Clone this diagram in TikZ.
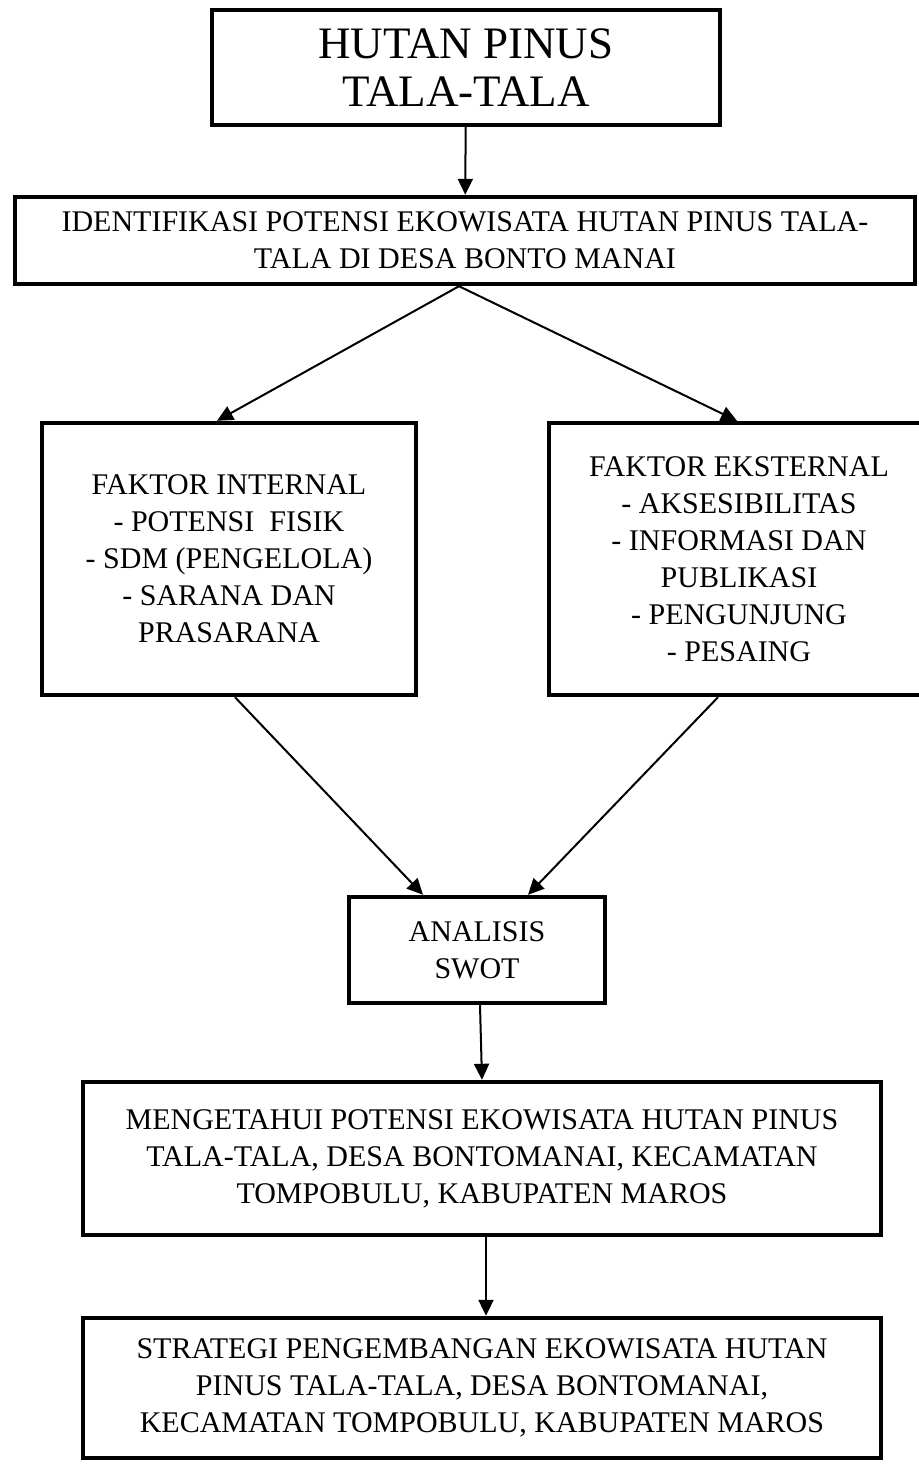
\documentclass[tikz,border=0pt]{standalone}
\usepackage{fontspec}
\setmainfont{Liberation Serif}
\usetikzlibrary{arrows.meta}

\begin{document}
\begin{tikzpicture}[x=0.5pt, y=-0.5pt,
    box/.style={draw, line width=2.2pt, align=center, inner sep=0pt,
      font=\fontsize{15}{18.5}\selectfont},
    flow/.style={-{Triangle[length=8pt, width=7.5pt]}, line width=1pt}]
  \useasboundingbox (0,0) rectangle (918,1464);
  \node[box, minimum width=254pt, minimum height=57.5pt, font=\fontsize{22.5}{24}\selectfont]
    (hutan) at (466,67.5) {HUTAN PINUS\\TALA-TALA};
  \node[box, minimum width=450pt, minimum height=43.5pt]
    (ident) at (465,240.5) {IDENTIFIKASI POTENSI EKOWISATA HUTAN PINUS TALA-\\TALA DI DESA BONTO MANAI};
  \node[box, minimum width=187pt, minimum height=136pt]
    (internal) at (229,559) {FAKTOR INTERNAL\\- POTENSI~ FISIK\\- SDM (PENGELOLA)\\- SARANA DAN\\PRASARANA};
  \node[box, minimum width=190pt, minimum height=136pt]
    (external) at (739,559) {FAKTOR EKSTERNAL\\- AKSESIBILITAS\\- INFORMASI DAN\\PUBLIKASI\\- PENGUNJUNG\\- PESAING};
  \node[box, minimum width=128pt, minimum height=53pt]
    (swot) at (477,950) {ANALISIS\\SWOT};
  \node[box, minimum width=399pt, minimum height=76.5pt]
    (know) at (482,1158.5) {MENGETAHUI POTENSI EKOWISATA HUTAN PINUS\\TALA-TALA, DESA BONTOMANAI, KECAMATAN\\TOMPOBULU, KABUPATEN MAROS};
  \node[box, minimum width=399pt, minimum height=70pt]
    (strategy) at (482,1388) {STRATEGI PENGEMBANGAN EKOWISATA HUTAN\\PINUS TALA-TALA, DESA BONTOMANAI,\\KECAMATAN TOMPOBULU, KABUPATEN MAROS};
  \draw[flow] (hutan) -- (ident);
  \draw[flow] ([xshift=-3pt]ident.south) -- ([xshift=-6pt]internal.north);
  \draw[flow] ([xshift=-3pt]ident.south) -- ([xshift=-1pt]external.north);
  \draw[flow] ([xshift=3pt]internal.south) -- ([xshift=-27pt]swot.north);
  \draw[flow] ([xshift=-10.5pt]external.south) -- ([xshift=25.5pt]swot.north);
  \draw[flow] ([xshift=1.5pt]swot.south) -- (know.north);
  \draw[flow] ([xshift=2pt]know.south) -- ([xshift=2pt]strategy.north);
\end{tikzpicture}
\end{document}
